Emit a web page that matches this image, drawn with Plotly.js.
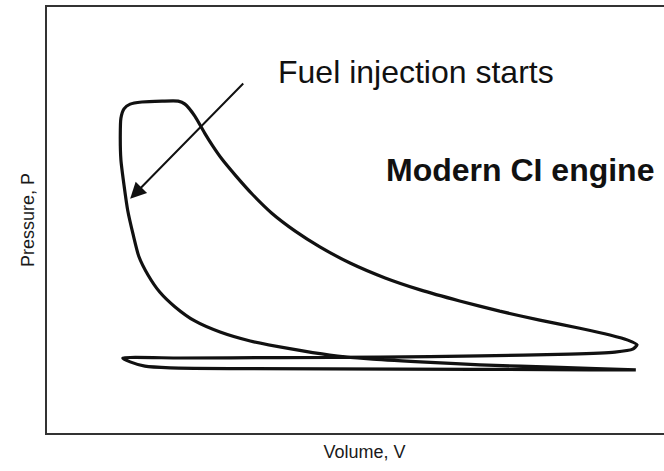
<!DOCTYPE html>
<html>
<head>
<meta charset="utf-8">
<script src="https://cdn.plot.ly/plotly-3.0.1.min.js"></script>
<style>html,body{margin:0;padding:0;background:#fff;overflow:hidden;}#chart{width:682px;height:471px;}</style>
</head>
<body>
<div id="chart"></div>
<script>
// Engine cycle (arbitrary units): compression -> combustion -> expansion -> exhaust -> intake
const volume = [95.6, 83.3, 70.3, 60.6, 52.4, 45.9, 39.4, 33.0, 28.1, 24.0, 20.8, 18.3, 16.4, 14.9, 14.0, 13.1, 12.5, 12.0, 11.9, 12.0, 12.5, 13.5, 15.4, 18.7, 21.3, 22.4, 24.0, 25.6, 26.9, 28.4, 30.7, 33.3, 36.5, 40.3, 44.3, 49.2, 54.9, 60.6, 67.0, 73.5, 80.0, 86.5, 91.4, 94.3, 95.8, 95.1, 92.2, 84.9, 70.3, 54.1, 37.8, 21.6, 12.3, 13.5, 15.9, 20.0, 33.0, 57.3, 81.7, 95.6];
const pressure = [14.8, 15.4, 16.0, 16.7, 17.4, 18.3, 19.8, 21.6, 23.7, 26.3, 29.6, 33.1, 37.1, 41.5, 46.5, 52.3, 58.2, 64.1, 70.0, 73.9, 76.1, 77.2, 77.7, 77.9, 77.9, 77.2, 74.4, 70.4, 67.4, 64.3, 60.3, 56.1, 51.6, 47.4, 43.7, 39.9, 36.4, 33.6, 31.0, 28.6, 26.5, 24.6, 23.0, 21.8, 20.7, 19.7, 19.0, 18.5, 18.1, 17.8, 17.7, 17.6, 17.6, 16.7, 15.7, 15.3, 15.1, 15.0, 14.9, 14.8];

const injectionPoint = [13.5, 55.0];   // where the arrow points
const injectionTail = [32.1, 82.4];    // arrow tail
const labelFuel = "Fuel injection starts";
const labelEngine = "Modern CI engine";
const xTitle = "Volume, V";
const yTitle = "Pressure, P";

const trace = {
  x: volume, y: pressure, type: 'scatter', mode: 'lines',
  line: {color: '#111', width: 3.2, shape: 'spline', smoothing: 0.6},
  hoverinfo: 'skip', showlegend: false
};

const axisCommon = {
  showgrid: false, zeroline: false, showticklabels: false, ticks: '',
  showline: true, mirror: true, linecolor: '#333', linewidth: 2, fixedrange: true
};

const layout = {
  width: 682, height: 471,
  margin: {l: 47, r: 0, t: 7, b: 38},
  paper_bgcolor: '#fff', plot_bgcolor: '#fff',
  font: {family: 'Liberation Sans, Arial, sans-serif', color: '#111'},
  xaxis: Object.assign({}, axisCommon, {range: [0, 103.1], title: {text: xTitle, font: {size: 18, color: '#1a1a1a'}, standoff: 11}, automargin: false}),
  yaxis: Object.assign({}, axisCommon, {range: [0, 100], title: {text: yTitle, font: {size: 18, color: '#1a1a1a'}, standoff: 6}, automargin: false}),
  annotations: [
    {x: injectionPoint[0], y: injectionPoint[1], ax: injectionTail[0], ay: injectionTail[1],
     xref: 'x', yref: 'y', axref: 'x', ayref: 'y', text: '', showarrow: true,
     arrowhead: 2, arrowsize: 1.6, arrowwidth: 2, arrowcolor: '#111'},
    {x: 59.9, y: 84.7, xref: 'x', yref: 'y', text: labelFuel, showarrow: false,
     font: {size: 32, color: '#111', family: 'Liberation Sans, Arial, sans-serif'}},
    {x: 76.8, y: 61.7, xref: 'x', yref: 'y', text: '<b>' + labelEngine + '</b>', showarrow: false,
     font: {size: 32, color: '#111', family: 'Liberation Sans, Arial, sans-serif'}}
  ]
};

Plotly.newPlot('chart', [trace], layout, {displayModeBar: false, staticPlot: true});
</script>
</body>
</html>
